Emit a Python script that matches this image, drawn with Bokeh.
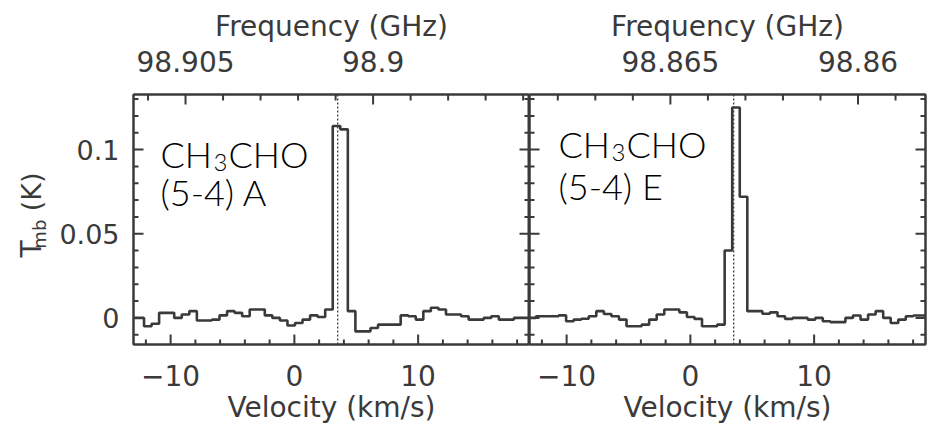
from bokeh.plotting import figure
from bokeh.models import (Range1d, LinearAxis, FixedTicker, CustomJSTickFormatter, Label, Span)
from bokeh.core.properties import value
from bokeh.layouts import row
from bokeh.embed import file_html
from bokeh.resources import INLINE

# ---------------- data ----------------
# channel edges (km/s) and main-beam temperatures (K): CH3CHO (5-4) A
vel_a_edges = [-13.37, -12.76, -12.15, -11.54, -10.93, -10.32, -9.71, -9.10, -8.49, -7.88,
               -7.27, -6.66, -6.05, -5.44, -4.83, -4.22, -3.61, -3.00, -2.39, -1.78,
               -1.17, -0.56, 0.05, 0.66, 1.27, 1.88, 2.49, 3.10, 3.71, 4.32,
               4.93, 5.54, 6.15, 6.76, 7.37, 7.98, 8.59, 9.20, 9.81, 10.42,
               11.03, 11.64, 12.25, 12.86, 13.47, 14.08, 14.69, 15.30, 15.91, 16.52,
               17.13, 17.74, 18.35, 18.96, 19.57]
tmb_a = [0.000, 0.000, -0.005, -0.0035, 0.003, 0.003, 0.000, 0.002, 0.004, -0.0015,
         -0.0015, -0.001, 0.0015, 0.004, 0.003, 0.001, 0.005, 0.005, 0.0015, 0.000,
         -0.0015, -0.0045, -0.003, -0.001, 0.0015, 0.0005, 0.005, 0.114, 0.112, 0.004,
         -0.008, -0.008, -0.006, -0.004, -0.004, -0.004, 0.0015, 0.001, -0.001, 0.004,
         0.006, 0.005, 0.002, 0.002, 0.001, -0.001, -0.001, 0.000, 0.001, -0.001,
         -0.001, 0.000, 0.000, 0.000]

# CH3CHO (5-4) E
vel_e_edges = [-13.09, -12.48, -11.87, -11.26, -10.65, -10.04, -9.43, -8.82, -8.21, -7.60,
               -6.99, -6.38, -5.77, -5.16, -4.55, -3.94, -3.33, -2.72, -2.11, -1.50,
               -0.89, -0.28, 0.33, 0.94, 1.55, 2.16, 2.77, 3.38, 3.99, 4.60,
               5.21, 5.82, 6.43, 7.04, 7.65, 8.26, 8.87, 9.48, 10.09, 10.70,
               11.31, 11.92, 12.53, 13.14, 13.75, 14.36, 14.97, 15.58, 16.19, 16.80,
               17.41, 18.02, 18.63, 19.24]
tmb_e = [0.000, 0.001, 0.001, 0.001, 0.0015, -0.002, -0.001, -0.0005, 0.001, 0.004,
         0.0023, 0.001, -0.001, -0.005, -0.005, -0.004, -0.001, 0.002, 0.005, 0.005,
         0.0033, 0.0005, -0.0006, -0.005, -0.005, -0.004, 0.040, 0.125, 0.072, 0.004,
         0.004, 0.0025, 0.0033, 0.001, -0.0006, 0.000, 0.000, -0.001, 0.000, -0.002,
         -0.0025, -0.0025, 0.000, 0.0014, -0.001, 0.002, 0.004, 0.000, -0.003, -0.001,
         0.001, 0.0014, 0.0014]

V_SYS = 3.5                      # dotted line (km/s)
REST_FREQ_A = 98.900944          # GHz
REST_FREQ_E = 98.863313          # GHz
C_KMS = 299792.458

vel_ticks = [-10, 0, 10]
vel_minor = [-12, -8, -6, -4, -2, 2, 4, 6, 8, 12, 14, 16, 18]
tmb_ticks = [0, 0.05, 0.1]
tmb_minor = [-0.01, 0.01, 0.02, 0.03, 0.04, 0.06, 0.07, 0.08, 0.09, 0.11, 0.12, 0.13]
freq_ticks_a = [98.905, 98.9]
freq_minor_a = [98.906, 98.904, 98.903, 98.902, 98.901, 98.899, 98.898, 98.897, 98.896]
freq_ticks_e = [98.865, 98.86]
freq_minor_e = [98.868, 98.867, 98.866, 98.864, 98.863, 98.862, 98.861, 98.859]

X_RANGE = (-13.0, 19.0)
Y_RANGE = (-0.0158, 0.1327)

# ---------------- style ----------------
INK = "#3a3a3a"
AX_FONT = "DejaVu Sans"
AX_SIZE = "28px"
ANN_FONT = "Lato Light, Lato"
FRAME_W = 396
FRAME_H = 251
TOP_B = 94
BOT_B = 81


def freq_of_vel(v, f0):
    return f0 * (1.0 - (v - V_SYS) / C_KMS)


def vel_of_freq(f, f0):
    return V_SYS + C_KMS * (1.0 - f / f0)


def style_axis(ax, labels=True):
    ax.axis_line_color = INK
    ax.axis_line_width = 2
    ax.major_tick_line_color = None
    ax.minor_tick_line_color = None
    ax.major_tick_out = 0
    ax.minor_tick_out = 0
    ax.major_tick_in = 0
    ax.minor_tick_in = 0
    ax.major_label_text_font = AX_FONT
    ax.major_label_text_font_size = AX_SIZE
    ax.major_label_text_color = INK
    ax.axis_label_text_font = AX_FONT
    ax.axis_label_text_font_size = AX_SIZE
    ax.axis_label_text_font_style = "normal"
    ax.axis_label_text_color = INK
    if not labels:
        ax.formatter = CustomJSTickFormatter(code="return '';")
        ax.major_label_text_font_size = "0px"
        ax.major_label_standoff = 0


def draw_ticks(p, f0, fticks, fminor):
    """Inward tick marks (starting just outside the frame, clipped by it)."""
    kx = (X_RANGE[1] - X_RANGE[0]) / FRAME_W   # km/s per pixel
    ky = (Y_RANGE[1] - Y_RANGE[0]) / FRAME_H   # K per pixel
    y0, y1 = Y_RANGE
    x0, x1 = X_RANGE
    kw = dict(line_color=INK, line_width=2)
    # bottom: velocity
    bt = vel_ticks + vel_minor
    blen = [10 * ky] * len(vel_ticks) + [5 * ky] * len(vel_minor)
    p.segment(x0=bt, y0=[y0 - 3 * ky] * len(bt), x1=list(bt), y1=[y0 + L for L in blen], **kw)
    # top: frequency
    ft = fticks + fminor
    fv = [vel_of_freq(f, f0) for f in ft]
    flen = [10 * ky] * len(fticks) + [6 * ky] * len(fminor)
    p.segment(x0=fv, y0=[y1 + 3 * ky] * len(fv), x1=list(fv), y1=[y1 - L for L in flen], **kw)
    # left and right: temperature
    yt = tmb_ticks + tmb_minor
    ylen = [10 * kx] * len(tmb_ticks) + [5 * kx] * len(tmb_minor)
    p.segment(x0=[x0 - 3 * kx] * len(yt), y0=yt, x1=[x0 + L for L in ylen], y1=list(yt), **kw)
    p.segment(x0=[x1 + 3 * kx] * len(yt), y0=yt, x1=[x1 - L for L in ylen], y1=list(yt), **kw)


def make_panel(edges, vals, f0, fticks, fminor, width, left_border, right_border, ylabels):
    fr = (freq_of_vel(X_RANGE[0], f0), freq_of_vel(X_RANGE[1], f0))
    p = figure(width=width, height=426, output_backend="svg", toolbar_location=None,
               x_range=Range1d(*X_RANGE), y_range=Range1d(*Y_RANGE),
               x_axis_location=None, y_axis_location=None,
               min_border_left=left_border, min_border_right=right_border,
               min_border_top=TOP_B, min_border_bottom=BOT_B)
    p.extra_x_ranges = {"freq": Range1d(start=fr[0], end=fr[1])}
    p.xgrid.visible = False
    p.ygrid.visible = False
    p.outline_line_color = INK
    p.outline_line_width = 2
    p.background_fill_color = "white"
    p.border_fill_color = "white"

    bx = LinearAxis(ticker=FixedTicker(ticks=vel_ticks, minor_ticks=vel_minor),
                    axis_label="Velocity (km/s)")
    style_axis(bx)
    bx.formatter = CustomJSTickFormatter(code="return (tick < 0 ? '\\u2212' + Math.abs(tick) : '' + tick);")
    bx.major_label_standoff = 20
    bx.axis_label_standoff = 2
    p.add_layout(bx, "below")

    tx = LinearAxis(x_range_name="freq",
                    ticker=FixedTicker(ticks=fticks, minor_ticks=fminor),
                    axis_label="Frequency (GHz)")
    style_axis(tx)
    tx.formatter = CustomJSTickFormatter(code="return '' + parseFloat(tick.toFixed(4));")
    tx.major_label_standoff = 23
    tx.axis_label_standoff = 5
    p.add_layout(tx, "above")

    ly = LinearAxis(ticker=FixedTicker(ticks=tmb_ticks, minor_ticks=tmb_minor))
    style_axis(ly, labels=ylabels)
    if ylabels:
        ly.formatter = CustomJSTickFormatter(code="return '' + parseFloat(tick.toFixed(3));")
        ly.major_label_text_font_size = "27px"
        ly.major_label_standoff = 14
    p.add_layout(ly, "left")

    ry = LinearAxis(ticker=FixedTicker(ticks=tmb_ticks, minor_ticks=tmb_minor))
    style_axis(ry, labels=False)
    p.add_layout(ry, "right")

    draw_ticks(p, f0, fticks, fminor)

    xs = list(edges)
    ys = list(vals) + [vals[-1]]
    p.step(xs, ys, mode="after", line_color=INK, line_width=2.6)

    p.add_layout(Span(location=V_SYS, dimension="height", line_color=INK,
                      line_width=1.3, line_dash="2 2"))
    return p


# y-axis title panel: T_mb (K), rotated
LBL_W = 54
lab = figure(width=LBL_W, height=426, output_backend="svg", toolbar_location=None,
             x_range=Range1d(0, LBL_W), y_range=Range1d(426, 0),
             x_axis_location=None, y_axis_location=None,
             min_border_left=0, min_border_right=0, min_border_top=0, min_border_bottom=0)
lab.xgrid.visible = False
lab.ygrid.visible = False
lab.outline_line_color = None
lab.border_fill_color = "white"
for txt, sx, sy, size in [("T", 31, 263, "28px"), ("mb", 39, 238, "18px"), ("(K)", 31, 166, "27px")]:
    lab.add_layout(Label(x=sx, y=sy, text=txt, angle=1.5708,
                         text_align="center", text_baseline="middle",
                         text_font=AX_FONT, text_font_size=size, text_color=INK))

left = make_panel(vel_a_edges, tmb_a, REST_FREQ_A, freq_ticks_a, freq_minor_a,
                  529 - LBL_W, 133 - LBL_W, 0, True)
right = make_panel(vel_e_edges, tmb_e, REST_FREQ_E, freq_ticks_e, freq_minor_e,
                   399, 0, 3, False)


def add_species(p, x0, y_line1, y_line2, suffix):
    parts = [("CH", x0, y_line1, "36px"), ("3", x0 + 53, y_line1 - 9, "24px"),
             ("CHO", x0 + 68, y_line1, "36px")]
    for txt, sx, sy, size in parts:
        p.add_layout(Label(x=sx, y=sy, x_units="screen", y_units="screen", text=txt,
                           text_align="left", text_baseline="alphabetic",
                           text_font=ANN_FONT, text_font_size=size, text_color="black"))
    p.add_layout(Label(x=x0, y=y_line2, x_units="screen", y_units="screen", text="(5-4) " + suffix,
                       text_align="left", text_baseline="alphabetic",
                       text_font=ANN_FONT, text_font_size="36px", text_color="black"))


add_species(left, 27, 191, 153, "A")
add_species(right, 29, 201, 159, "E")

layout = row(lab, left, right, spacing=0)
open("out.html", "w").write(file_html(layout, INLINE))
